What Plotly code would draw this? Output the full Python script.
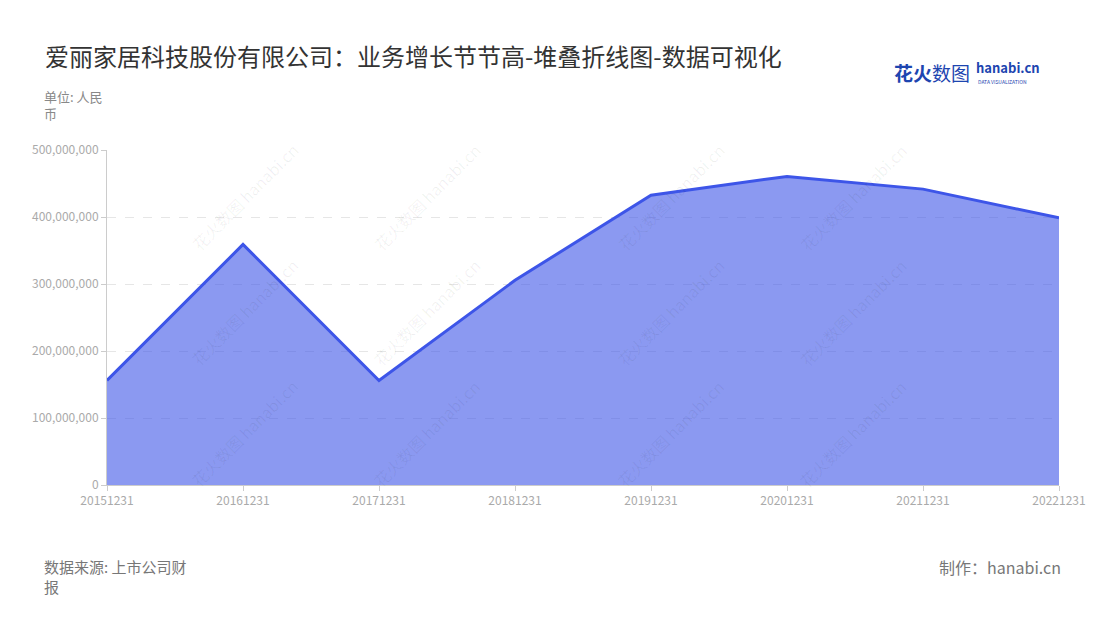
import plotly.graph_objects as go

# 报告期与营收（元）
periods = ['20151231', '20161231', '20171231', '20181231',
           '20191231', '20201231', '20211231', '20221231']
revenue = [156000000, 359000000, 156000000, 305500000,
           432600000, 460600000, 441600000, 398700000]

y_ticks = [0, 100000000, 200000000, 300000000, 400000000, 500000000]

title_text = '爱丽家居科技股份有限公司：业务增长节节高-堆叠折线图-数据可视化'
FONT = 'Noto Sans CJK SC'

# 页面 body 有 8px 的默认边距，这里按截图像素换算到 paper 坐标
PLOT_L, PLOT_R, PLOT_T, PLOT_B = 107, 1059, 150, 485


def px(x):
    return (x - PLOT_L) / (PLOT_R - PLOT_L)


def py(y):
    return (PLOT_B - y) / (PLOT_B - PLOT_T)


def label(fig, x, y, text, size, color, anchor='left', yanchor='middle', bold=False):
    fig.add_annotation(x=px(x), y=py(y), xref='paper', yref='paper',
                       xanchor=anchor, yanchor=yanchor, showarrow=False, align='left',
                       text=f'<b>{text}</b>' if bold else text,
                       font=dict(family=FONT, size=size, color=color))


fig = go.Figure()
fig.add_trace(go.Scatter(
    x=periods, y=revenue, mode='lines',
    line=dict(color='#3d55e8', width=3),
    fill='tozeroy', fillcolor='rgba(61,85,232,0.6)',
    hoverinfo='x+y', showlegend=False))

fig.update_layout(
    width=1092, height=612,
    margin=dict(l=PLOT_L - 8, r=1100 - PLOT_R, t=PLOT_T - 8, b=620 - PLOT_B),
    paper_bgcolor='white', plot_bgcolor='white',
    font=dict(family=FONT, color='#999'),
    showlegend=False,
)

fig.update_xaxes(
    type='category', range=[0, len(periods) - 1],
    showline=True, linecolor='#ccc', linewidth=1,
    ticks='outside', ticklen=5, tickcolor='#ccc',
    tickfont=dict(size=12, color='#aaa'),
    showgrid=False, zeroline=False,
)
fig.update_yaxes(
    range=[0, 500000000], tickvals=y_ticks, tickformat=',',
    showline=True, linecolor='#ccc', linewidth=1,
    ticks='outside', ticklen=5, tickcolor='#ccc',
    tickfont=dict(size=12, color='#aaa'),
    showgrid=True, gridcolor='#e6e6e6', griddash='dash', gridwidth=1,
    zeroline=False,
)

# 水印
for cx in [183, 427, 671, 915]:
    for cy in [135, 312, 495]:
        fig.add_annotation(
            x=px(cx), y=py(cy), xref='paper', yref='paper',
            text='花火数图 hanabi.cn', showarrow=False, textangle=-45,
            font=dict(family=FONT, size=16, color='rgba(0,0,0,0.06)'))

# 标题、单位、来源
label(fig, 43, 55, title_text, 24, '#333')
label(fig, 42, 85, '单位: 人民<br>币', 13, '#888', yanchor='top')
label(fig, 42, 554, '数据来源: 上市公司财<br>报', 15, '#777', yanchor='top')
label(fig, 1063, 567, '制作：hanabi.cn', 16, '#777', anchor='right')

# 右上角标志
label(fig, 972, 72, '<b>花火</b>数图', 19, '#1d45b0', anchor='right')
label(fig, 974, 67, 'hanabi.cn', 13, '#1d45b0', bold=True)
label(fig, 976, 81, 'DATA VISUALIZATION', 5, '#1d45b0')

fig.write_html('out.html')
